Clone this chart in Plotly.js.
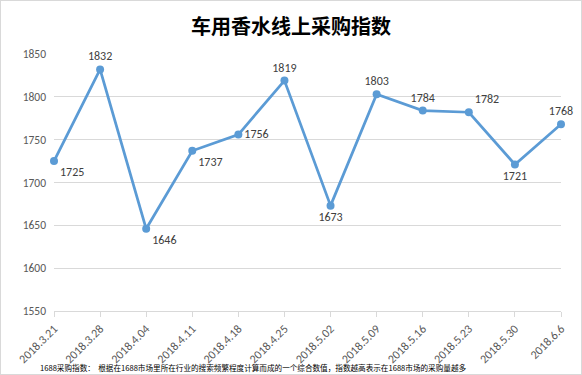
<!DOCTYPE html>
<html><head><meta charset="utf-8">
<script src="https://cdn.plot.ly/plotly-3.0.1.min.js"></script>
<style>html,body{margin:0;padding:0;background:#fff;}#chart{width:580px;height:373px;border:1px solid #d9d9d9;}</style>
</head><body><div id="chart"></div>
<script>
var categories = ["2018.3.21","2018.3.28","2018.4.04","2018.4.11","2018.4.18","2018.4.25","2018.5.02","2018.5.09","2018.5.16","2018.5.23","2018.5.30","2018.6.6"];
var values = [1725,1832,1646,1737,1756,1819,1673,1803,1784,1782,1721,1768];
var labelPositions = ["bottom right","top center","bottom right","bottom right","middle right","top center","bottom center","top center","top center","top right","bottom center","top center"];
var yTicks = [1550,1600,1650,1700,1750,1800,1850];
var titleText = "车用香水线上采购指数";
var noteText = "1688采购指数：  根据在1688市场里所在行业的搜索频繁程度计算而成的一个综合数值，指数越高表示在1688市场的采购量越多";

var xs = categories.map(function(c,i){return i;});
var trace = {
  x: xs, y: values, type: "scatter", mode: "lines+markers+text",
  text: values.map(String), textposition: labelPositions,
  textfont: {family: "Calibri, Carlito, 'Liberation Sans', sans-serif", size: 12, color: "#404040"},
  line: {color: "#5b9bd5", width: 2.75},
  marker: {color: "#5b9bd5", size: 8},
  cliponaxis: false, hoverinfo: "none"
};
var layout = {
  width: 580, height: 373,
  margin: {l: 53, r: 20, t: 53, b: 63},
  paper_bgcolor: "#fff", plot_bgcolor: "#fff",
  showlegend: false,
  title: {text: "<b>" + titleText + "</b>", x: 0.5, xanchor: "center", y: 0.93, yanchor: "middle",
          font: {family: "'Noto Sans CJK SC', sans-serif", size: 20, color: "#000"}},
  xaxis: {range: [0, 11], tickmode: "array", tickvals: xs, ticktext: categories,
          tickangle: -45, showgrid: false, zeroline: false,
          showline: true, linecolor: "#d9d9d9", linewidth: 1,
          ticks: "outside", ticklen: 5, tickcolor: "#d9d9d9",
          tickfont: {family: "Calibri, Carlito, 'Liberation Sans', sans-serif", size: 12, color: "#595959"}},
  yaxis: {range: [1550, 1850], tickmode: "array", tickvals: yTicks,
          showgrid: true, gridcolor: "#d9d9d9", gridwidth: 1, zeroline: false, showline: false,
          ticks: "", ticklabelstandoff: 7,
          tickfont: {family: "Calibri, Carlito, 'Liberation Sans', sans-serif", size: 11.5, color: "#595959"}},
  annotations: [{text: noteText, xref: "paper", yref: "paper", x: -0.03, xanchor: "left",
                 y: -0.218, yanchor: "middle", showarrow: false, borderpad: 0,
                 font: {family: "'Noto Sans CJK SC', sans-serif", size: 7.6, color: "#000"}}]
};
Plotly.newPlot("chart", [trace], layout, {displayModeBar: false, staticPlot: true});
</script></body></html>
